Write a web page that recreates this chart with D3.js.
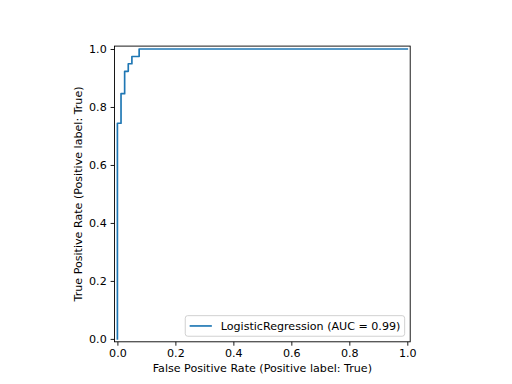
<!DOCTYPE html>
<html>
<head>
<meta charset="utf-8">
<script src="https://cdn.jsdelivr.net/npm/d3@7"></script>
<style>
  body { margin: 0; background: #fff; }
  svg text { font-family: "DejaVu Sans", sans-serif; fill: #000; }
</style>
</head>
<body>
<div id="chart"></div>
<script>
"use strict";

// ROC curve points (false positive rate, true positive rate)
var fpr = [0, 0, 0.0125, 0.0125, 0.025, 0.025, 0.0375, 0.0375, 0.05, 0.05, 0.075, 0.075, 1.0];
var tpr = [0, 0.744, 0.744, 0.846, 0.846, 0.923, 0.923, 0.949, 0.949, 0.974, 0.974, 1.0, 1.0];
var ticks = [0, 0.2, 0.4, 0.6, 0.8, 1.0];
var legendLabel = "LogisticRegression (AUC = 0.99)";
var xLabel = "False Positive Rate (Positive label: True)";
var yLabel = "True Positive Rate (Positive label: True)";

var width = 512, height = 384;
// square axes like matplotlib's equal aspect
var box = { left: 114.5, top: 46.1, size: 295.7 };
var fs = 11.1;

var svg = d3.select("#chart").append("svg")
    .attr("width", width)
    .attr("height", height);

var x = d3.scaleLinear().domain([-0.01, 1.01]).range([box.left, box.left + box.size]);
var y = d3.scaleLinear().domain([-0.01, 1.01]).range([box.top + box.size, box.top]);

var fmt = d3.format(".1f");

// x axis
var gx = svg.append("g")
    .attr("transform", "translate(0," + (box.top + box.size) + ")")
    .call(d3.axisBottom(x).tickValues(ticks).tickFormat(fmt).tickSizeOuter(0).tickSize(3.9).tickPadding(3.9));

// y axis
var gy = svg.append("g")
    .attr("transform", "translate(" + box.left + ",0)")
    .call(d3.axisLeft(y).tickValues(ticks).tickFormat(fmt).tickSizeOuter(0).tickSize(3.9).tickPadding(3.9));

[gx, gy].forEach(function (g) {
    g.select(".domain").remove();
    g.selectAll(".tick line").attr("stroke", "#000").attr("stroke-width", 0.9);
    g.selectAll(".tick text").attr("font-size", fs).attr("font-family", "DejaVu Sans");
});

// the curve
var line = d3.line()
    .x(function (d) { return x(d[0]); })
    .y(function (d) { return y(d[1]); });

svg.append("path")
    .datum(d3.zip(fpr, tpr))
    .attr("d", line)
    .attr("fill", "none")
    .attr("stroke", "#1f77b4")
    .attr("stroke-width", 1.67)
    .attr("stroke-linecap", "square")
    .attr("stroke-linejoin", "round");

// frame
svg.append("rect")
    .attr("x", box.left)
    .attr("y", box.top)
    .attr("width", box.size)
    .attr("height", box.size)
    .attr("fill", "none")
    .attr("stroke", "#000")
    .attr("stroke-width", 0.9);

// axis labels
svg.append("text")
    .attr("x", box.left + box.size / 2)
    .attr("y", 372)
    .attr("text-anchor", "middle")
    .attr("font-size", fs)
    .text(xLabel);

svg.append("text")
    .attr("transform", "translate(82," + (box.top + box.size / 2) + ") rotate(-90)")
    .attr("text-anchor", "middle")
    .attr("font-size", fs)
    .text(yLabel);

// legend, lower right
var legW = 219.4, legH = 20.6;
var legX = box.left + box.size - 5.55 - legW;
var legY = box.top + box.size - 5.55 - legH;
var leg = svg.append("g").attr("transform", "translate(" + legX + "," + legY + ")");

leg.append("rect")
    .attr("width", legW)
    .attr("height", legH)
    .attr("rx", 2.5)
    .attr("fill", "#fff")
    .attr("fill-opacity", 0.8)
    .attr("stroke", "#cccccc")
    .attr("stroke-width", 0.9);

leg.append("line")
    .attr("x1", 4.4)
    .attr("x2", 26.6)
    .attr("y1", legH / 2)
    .attr("y2", legH / 2)
    .attr("stroke", "#1f77b4")
    .attr("stroke-width", 1.67);

leg.append("text")
    .attr("x", 35.5)
    .attr("y", legH / 2)
    .attr("dy", "0.35em")
    .attr("font-size", fs)
    .text(legendLabel);
</script>
</body>
</html>
